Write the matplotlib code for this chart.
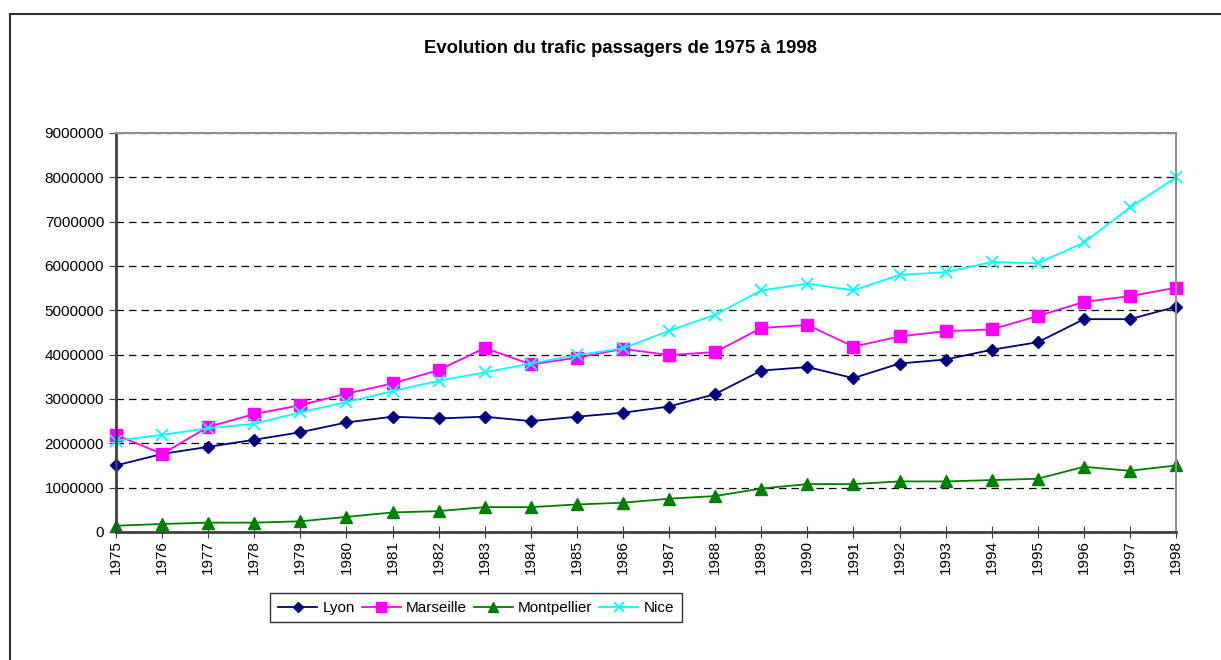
import matplotlib
matplotlib.use("Agg")
import matplotlib.pyplot as plt
from matplotlib.lines import Line2D
from matplotlib.ticker import FuncFormatter

plt.rcParams['font.family'] = ['Liberation Sans', 'DejaVu Sans']

years = list(range(1975, 1999))
lyon = [1500000, 1760000, 1920000, 2080000, 2250000, 2470000, 2600000, 2560000,
        2600000, 2500000, 2600000, 2690000, 2830000, 3110000, 3640000, 3720000,
        3470000, 3800000, 3890000, 4110000, 4280000, 4800000, 4800000, 5080000]
marseille = [2190000, 1760000, 2370000, 2660000, 2860000, 3120000, 3350000, 3650000,
             4150000, 3780000, 3930000, 4130000, 3990000, 4060000, 4600000, 4670000,
             4180000, 4410000, 4530000, 4570000, 4870000, 5190000, 5320000, 5510000]
montpellier = [140000, 180000, 210000, 210000, 240000, 340000, 440000, 470000,
               560000, 560000, 620000, 660000, 750000, 810000, 980000, 1080000,
               1080000, 1140000, 1140000, 1170000, 1200000, 1470000, 1380000, 1500000]
nice = [2060000, 2190000, 2340000, 2440000, 2700000, 2930000, 3180000, 3410000,
        3600000, 3800000, 3990000, 4140000, 4540000, 4900000, 5450000, 5600000,
        5450000, 5800000, 5860000, 6090000, 6060000, 6530000, 7320000, 8000000]

fig = plt.figure(figsize=(12.21, 6.60), dpi=100)
ax = fig.add_axes([0.095, 0.194, 0.8682, 0.6045])

ax.plot(years, lyon, color='#000080', marker='D', markersize=6, lw=1.3, label='Lyon', clip_on=False)
ax.plot(years, marseille, color='#FF00FF', marker='s', markersize=8, lw=1.3, label='Marseille', clip_on=False)
ax.plot(years, montpellier, color='#008000', marker='^', markersize=8, lw=1.3, label='Montpellier', clip_on=False)
ax.plot(years, nice, color='#00FFFF', marker='x', markersize=9, mew=1.3, lw=1.3, label='Nice', clip_on=False)

ax.set_xlim(1975, 1998)
ax.set_ylim(0, 9000000)
ax.set_xticks(years)
ax.set_xticklabels([str(y) for y in years], rotation=90, fontsize=11)
ax.set_yticks(range(0, 9000001, 1000000))
ax.yaxis.set_major_formatter(FuncFormatter(lambda v, p: '%d' % v))
ax.tick_params(axis='y', labelsize=11, direction='out', length=5, color='#404040')
ax.tick_params(axis='x', direction='inout', length=8, color='#404040', pad=2)

ax.yaxis.grid(True, linestyle=(0, (6, 4)), color='black', lw=0.9)
ax.set_axisbelow(True)

for s in ['top', 'right']:
    ax.spines[s].set_color('#909090')
    ax.spines[s].set_linewidth(1.5)
for s in ['left', 'bottom']:
    ax.spines[s].set_color('#404040')
    ax.spines[s].set_linewidth(2)

fig.text(0.508, 0.927, 'Evolution du trafic passagers de 1975 à 1998',
         ha='center', va='center', fontsize=13.3, fontweight='bold')

leg = fig.legend(loc='center', bbox_to_anchor=(0.390, 0.079), ncol=4, fontsize=11,
                 frameon=True, fancybox=False, edgecolor='black', numpoints=1,
                 handlelength=2.55, columnspacing=0.45, handletextpad=0.35,
                 borderpad=0.5, borderaxespad=0, markerscale=0.85)
leg.get_frame().set_linewidth(1)

# outer chart frame
fig.add_artist(Line2D([0.0082, 0.0082], [0.0, 0.979], color='#303030', lw=1.5, transform=fig.transFigure))
fig.add_artist(Line2D([0.0082, 1.0], [0.979, 0.979], color='#303030', lw=1.5, transform=fig.transFigure))

fig.savefig('out.png', dpi=100)
